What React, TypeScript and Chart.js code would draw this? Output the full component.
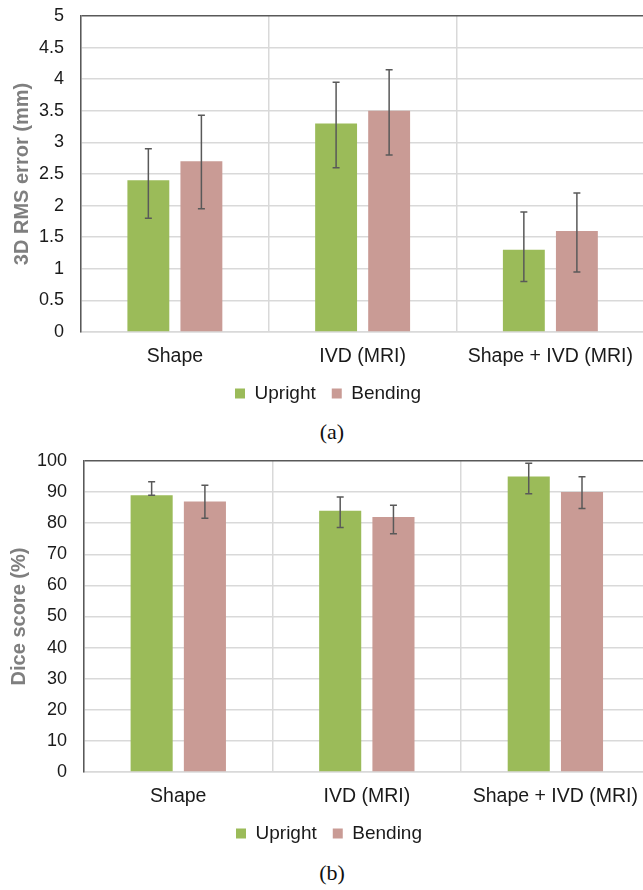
import React, { useEffect, useRef } from 'react';
import { Chart, registerables } from 'chart.js';

Chart.register(...registerables);

if (typeof document !== 'undefined') {
  document.body.style.margin = '0';
}

// ---------- data ----------
const categories = ['Shape', 'IVD (MRI)', 'Shape + IVD (MRI)'];
const seriesNames = ['Upright', 'Bending'];

// (a) 3D RMS error (mm)
const rmsUpright = [2.4, 3.3, 1.3];
const rmsBending = [2.7, 3.5, 1.6];
const rmsUprightLow = [1.8, 2.6, 0.8];
const rmsUprightHigh = [2.9, 3.95, 1.9];
const rmsBendingLow = [1.95, 2.8, 0.95];
const rmsBendingHigh = [3.43, 4.15, 2.2];
const rmsAxis = [0, 5, 0.5]; // min, max, step

// (b) Dice score (%)
const diceUpright = [89, 84, 95];
const diceBending = [87, 82, 90];
const diceUprightLow = [89, 78.6, 89.5];
const diceUprightHigh = [93.3, 88.4, 99.3];
const diceBendingLow = [81.6, 76.6, 84.7];
const diceBendingHigh = [92.2, 85.8, 94.9];
const diceAxis = [0, 100, 10];

// ---------- styles ----------
const GREEN = '#9BBB59';
const PINK = '#C99B95';
const AXIS_DARK = '#595959';
const GRID = '#D9D9D9';
const SANS = '"Liberation Sans", Arial, Helvetica, sans-serif';
const SERIF = '"Liberation Serif", "Times New Roman", serif';

const errorBarPlugin = {
  id: 'errorBars',
  afterDatasetsDraw(chart: any, _args: any, opts: any) {
    const { ctx } = chart;
    const yScale = chart.scales.y;
    ctx.save();
    ctx.strokeStyle = opts.color || AXIS_DARK;
    ctx.lineWidth = opts.width || 1.5;
    const cap = opts.cap || 3.5;
    chart.data.datasets.forEach((_ds: any, di: number) => {
      const meta = chart.getDatasetMeta(di);
      const lows = opts.low[di];
      const highs = opts.high[di];
      meta.data.forEach((bar: any, i: number) => {
        const x = bar.x;
        const y1 = yScale.getPixelForValue(lows[i]);
        const y2 = yScale.getPixelForValue(highs[i]);
        ctx.beginPath();
        ctx.moveTo(x, y1);
        ctx.lineTo(x, y2);
        ctx.moveTo(x - cap, y1);
        ctx.lineTo(x + cap, y1);
        ctx.moveTo(x - cap, y2);
        ctx.lineTo(x + cap, y2);
        ctx.stroke();
      });
    });
    ctx.restore();
  },
};

type PanelProps = {
  top: number;
  width: number;
  height: number;
  padLeft: number;
  padTop: number;
  yAxisWidth: number;
  yTitle: string;
  axis: number[];
  upright: number[];
  bending: number[];
  low: number[][];
  high: number[][];
};

function BarPanel(p: PanelProps) {
  const ref = useRef<HTMLCanvasElement | null>(null);
  useEffect(() => {
    if (!ref.current) return;
    const [yMin, yMax, yStep] = p.axis;
    const chart = new Chart(ref.current, {
      type: 'bar',
      data: {
        labels: categories,
        datasets: [
          {
            label: seriesNames[0],
            data: p.upright,
            backgroundColor: GREEN,
            borderWidth: 0,
            categoryPercentage: 0.565,
            barPercentage: 0.79,
          },
          {
            label: seriesNames[1],
            data: p.bending,
            backgroundColor: PINK,
            borderWidth: 0,
            categoryPercentage: 0.565,
            barPercentage: 0.79,
          },
        ],
      },
      options: {
        responsive: false,
        animation: false,
        devicePixelRatio: 1,
        layout: { padding: { left: p.padLeft, top: p.padTop, right: 0, bottom: 0 } },
        scales: {
          x: {
            grid: { color: GRID, lineWidth: 1.5, drawTicks: false, offset: true },
            border: { color: GRID, width: 1.5 },
            ticks: {
              color: '#1a1a1a',
              font: { family: SANS, size: 19.5 },
              padding: 13,
              maxRotation: 0,
              autoSkip: false,
            },
            afterFit: (s: any) => {
              s.height = 36;
            },
          },
          y: {
            min: yMin,
            max: yMax,
            grid: {
              color: (c: any) => (c.tick && c.tick.value === yMax ? AXIS_DARK : GRID),
              lineWidth: 1.5,
              drawTicks: false,
            },
            border: { color: AXIS_DARK, width: 1.5 },
            ticks: {
              stepSize: yStep,
              color: '#1a1a1a',
              font: { family: SANS, size: 18 },
              padding: 17,
              callback: (v: any) => String(Number(Number(v).toFixed(2))),
            },
            title: {
              display: true,
              text: p.yTitle,
              color: '#7F7F7F',
              font: { family: SANS, size: 20, weight: 'bold' },
              padding: { top: 0, bottom: 0 },
            },
            afterFit: (s: any) => {
              s.width = p.yAxisWidth;
              s.paddingTop = 0;
              s.paddingBottom = 0;
            },
          },
        },
        plugins: {
          legend: {
            position: 'bottom',
            labels: {
              boxWidth: 10,
              boxHeight: 10,
              padding: 16,
              color: '#1a1a1a',
              font: { family: SANS, size: 19 },
            },
          },
          tooltip: { enabled: false },
          errorBars: { low: p.low, high: p.high, color: AXIS_DARK, width: 1.5, cap: 3.5 },
        } as any,
      },
      plugins: [errorBarPlugin],
    } as any);
    return () => chart.destroy();
  }, []);
  return (
    <div style={{ position: 'absolute', left: 0, top: p.top, width: p.width, height: p.height }}>
      <canvas ref={ref} width={p.width} height={p.height} style={{ width: p.width, height: p.height, display: 'block' }} />
    </div>
  );
}

const captionStyle = (top: number): React.CSSProperties => ({
  position: 'absolute',
  left: 0,
  top,
  width: 664,
  height: 30,
  lineHeight: '30px',
  textAlign: 'center',
  fontFamily: SERIF,
  fontSize: 22,
  color: '#111',
});

export default function App() {
  return (
    <div style={{ position: 'relative', width: 643, height: 890, overflow: 'hidden', background: '#fff' }}>
      <BarPanel
        top={0}
        width={646}
        height={413}
        padLeft={10}
        padTop={16}
        yAxisWidth={71}
        yTitle="3D RMS error (mm)"
        axis={rmsAxis}
        upright={rmsUpright}
        bending={rmsBending}
        low={[rmsUprightLow, rmsBendingLow]}
        high={[rmsUprightHigh, rmsBendingHigh]}
      />
      <div style={captionStyle(417)}>(a)</div>
      <BarPanel
        top={449}
        width={651}
        height={404}
        padLeft={7}
        padTop={12}
        yAxisWidth={77}
        yTitle="Dice score (%)"
        axis={diceAxis}
        upright={diceUpright}
        bending={diceBending}
        low={[diceUprightLow, diceBendingLow]}
        high={[diceUprightHigh, diceBendingHigh]}
      />
      <div style={captionStyle(858)}>(b)</div>
    </div>
  );
}
